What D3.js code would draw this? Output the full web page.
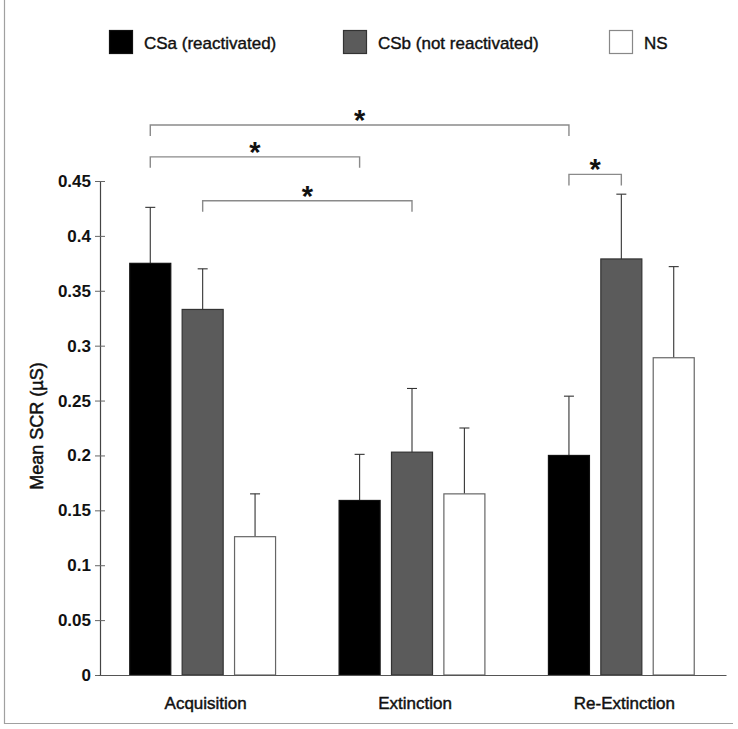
<!DOCTYPE html>
<html>
<head>
<meta charset="utf-8">
<script src="https://cdn.jsdelivr.net/npm/d3@7"></script>
<style>
  html, body { margin: 0; padding: 0; background: #fff; }
  svg { display: block; font-family: "Liberation Sans", Arial, Helvetica, sans-serif; }
</style>
</head>
<body>
<svg id="chart" width="738" height="729"></svg>
<script>
// ---- data ----
const groups = ["Acquisition", "Extinction", "Re-Extinction"];
const series = ["CSa (reactivated)", "CSb (not reactivated)", "NS"];
const csaMeans = [0.375, 0.159, 0.200];
const csbMeans = [0.333, 0.203, 0.379];
const nsMeans  = [0.126, 0.165, 0.289];
const csaErr   = [0.051, 0.042, 0.054];
const csbErr   = [0.037, 0.058, 0.059];
const nsErr    = [0.039, 0.060, 0.083];
const yTicks   = [0, 0.05, 0.1, 0.15, 0.2, 0.25, 0.3, 0.35, 0.4, 0.45];
const yTickLabels = ["0", "0.05", "0.1", "0.15", "0.2", "0.25", "0.3", "0.35", "0.4", "0.45"];
// significance brackets: [group, series] -> [group, series], level (µS)
const sigFrom  = [[0, 0], [0, 0], [0, 1], [2, 0]];
const sigTo    = [[2, 0], [1, 0], [1, 1], [2, 1]];
const sigLevel = [0.501, 0.472, 0.432, 0.456];

// ---- styles ----
const fills   = ["#000000", "#5b5b5b", "#ffffff"];
const strokes = ["#111111", "#333333", "#666666"];

const svg = d3.select("#chart");

// outer frame (left + bottom)
svg.append("path")
  .attr("d", "M4.5,0 V723.5 H733")
  .attr("fill", "none").attr("stroke", "#a0a0a0").attr("stroke-width", 1.2);

const x0 = d3.scaleBand().domain(groups).range([98, 726]);
const x1 = d3.scaleBand().domain(series).range([-73.4, 73.4]).paddingInner(0.198);
const y  = d3.scaleLinear().domain([0, 0.45]).range([675, 181]);

const means = [csaMeans, csbMeans, nsMeans];
const errs  = [csaErr, csbErr, nsErr];
const rows = [];
groups.forEach((g, gi) => series.forEach((s, si) => {
  rows.push({ g, s, gi, si, v: means[si][gi], e: errs[si][gi] });
}));
const cx = (gi, si) => x0(groups[gi]) + x0.bandwidth() / 2 + x1(series[si]) + x1.bandwidth() / 2;

// error bars (upper only)
const eb = svg.append("g").attr("stroke", "#333").attr("stroke-width", 1.1);
rows.forEach(d => {
  const c = cx(d.gi, d.si);
  eb.append("line").attr("x1", c).attr("x2", c).attr("y1", y(d.v)).attr("y2", y(d.v + d.e));
  eb.append("line").attr("x1", c - 5).attr("x2", c + 5).attr("y1", y(d.v + d.e)).attr("y2", y(d.v + d.e));
});

// bars
svg.append("g").selectAll("rect").data(rows).join("rect")
  .attr("x", d => cx(d.gi, d.si) - x1.bandwidth() / 2 + 0.5)
  .attr("width", x1.bandwidth() - 1)
  .attr("y", d => y(d.v))
  .attr("height", d => y(0) - y(d.v))
  .attr("fill", d => fills[d.si])
  .attr("stroke", d => strokes[d.si])
  .attr("stroke-width", 1.2);

// y axis
const yAxis = svg.append("g").attr("transform", "translate(100,0)")
  .call(d3.axisLeft(y).tickValues(yTicks).tickFormat((d, i) => yTickLabels[i])
    .tickSizeInner(5).tickSizeOuter(0).tickPadding(4));
yAxis.select(".domain").attr("stroke", "#444").attr("stroke-width", 1.2);
yAxis.selectAll(".tick line").attr("x1", 5).attr("stroke", "#666");
yAxis.selectAll(".tick text").attr("font-size", 17).attr("font-weight", "bold")
  .attr("fill", "#111").attr("font-family", "'Liberation Sans', Arial, sans-serif");

// x axis
const xAxis = svg.append("g").attr("transform", "translate(0,675)")
  .call(d3.axisBottom(x0).tickSize(0).tickPadding(0));
xAxis.select(".domain").attr("stroke", "#555").attr("stroke-width", 1.2);
xAxis.selectAll(".tick text").attr("font-size", 17).attr("font-weight", "normal")
  .attr("fill", "#111").attr("stroke", "#111").attr("stroke-width", 0.45)
  .attr("dy", 0).attr("y", 34).attr("dx", 3)
  .attr("font-family", "'Liberation Sans', Arial, sans-serif");

// y title
svg.append("text")
  .attr("transform", "translate(43,426) rotate(-90)")
  .attr("text-anchor", "middle")
  .attr("font-size", 18).attr("fill", "#111")
  .attr("stroke", "#111").attr("stroke-width", 0.5)
  .text("Mean SCR (\u00b5S)");

// significance brackets
const br = svg.append("g");
sigFrom.forEach((f, i) => {
  const xa = cx(f[0], f[1]), xb = cx(sigTo[i][0], sigTo[i][1]);
  const yl = y(sigLevel[i]);
  br.append("path")
    .attr("d", `M${xa},${yl + 11} V${yl} H${xb} V${yl + 11}`)
    .attr("fill", "none").attr("stroke", "#8a8a8a").attr("stroke-width", 1.4);
  br.append("text")
    .attr("x", (xa + xb) / 2).attr("y", yl + 5)
    .attr("text-anchor", "middle")
    .attr("font-size", 29).attr("font-weight", "bold").attr("fill", "#111")
    .text("*");
});

// legend
const legX = [109, 343, 609];
const lg = svg.append("g");
series.forEach((s, i) => {
  lg.append("rect").attr("x", legX[i] + 0.5).attr("y", 30.5).attr("width", 23).attr("height", 23)
    .attr("fill", fills[i]).attr("stroke", i === 2 ? "#888" : strokes[i]).attr("stroke-width", 1.2);
  lg.append("text").attr("x", legX[i] + 35).attr("y", 49)
    .attr("font-size", 17).attr("fill", "#111")
    .attr("stroke", "#111").attr("stroke-width", 0.4)
    .text(s);
});
</script>
</body>
</html>
